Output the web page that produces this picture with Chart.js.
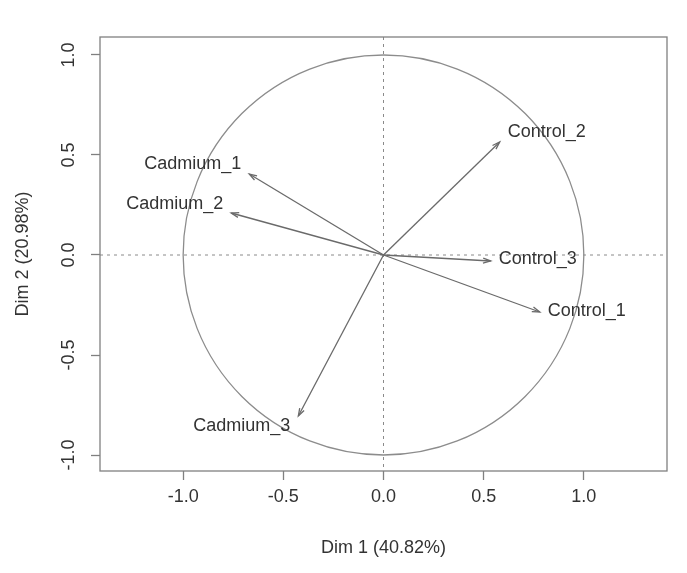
<!DOCTYPE html>
<html>
<head>
<meta charset="utf-8">
<script src="https://cdn.jsdelivr.net/npm/chart.js@4"></script>
<style>
  html, body { margin: 0; padding: 0; background: #fff; }
  #wrap { width: 687px; height: 573px; }
</style>
</head>
<body>
<div id="wrap"><canvas id="c" width="687" height="573"></canvas></div>
<script>
// Variable coordinates on the first two dimensions
const variables = ['Cadmium_1', 'Cadmium_2', 'Cadmium_3', 'Control_1', 'Control_2', 'Control_3'];
const dim1 = [-0.67, -0.76, -0.425, 0.78, 0.58, 0.535];
const dim2 = [0.405, 0.21, -0.805, -0.285, 0.565, -0.03];
// vertical nudge of each label (data units) so labels do not overlap
const labelNudge = [0.05, 0.045, -0.05, 0.005, 0.05, 0.01];
const tickValues = [-1.0, -0.5, 0.0, 0.5, 1.0];
const xTitle = 'Dim 1 (40.82%)';
const yTitle = 'Dim 2 (20.98%)';

const FONT = '"Liberation Sans", Arial, Helvetica, sans-serif';
const TEXT = '#333333';
const LINE = '#808080';

const datasets = variables.map((name, i) => ({
  label: name,
  data: [{ x: 0, y: 0 }, { x: dim1[i], y: dim2[i] }],
  showLine: true,
  borderColor: '#6a6a6a',
  borderWidth: 1.3,
  pointRadius: 0,
  fill: false
}));

const circlePlugin = {
  id: 'circleAndGuides',
  beforeDatasetsDraw(chart) {
    const { ctx, chartArea: a, scales: { x, y } } = chart;
    const cx = x.getPixelForValue(0), cy = y.getPixelForValue(0);
    ctx.save();
    // dotted reference lines through the origin
    ctx.strokeStyle = '#8a8a8a';
    ctx.lineWidth = 1;
    ctx.setLineDash([3, 4]);
    ctx.beginPath();
    ctx.moveTo(a.left, cy); ctx.lineTo(a.right, cy);
    ctx.moveTo(cx, a.top); ctx.lineTo(cx, a.bottom);
    ctx.stroke();
    ctx.setLineDash([]);
    // unit correlation circle
    const rx = x.getPixelForValue(1) - cx;
    const ry = cy - y.getPixelForValue(1);
    ctx.strokeStyle = '#8c8c8c';
    ctx.lineWidth = 1.3;
    ctx.beginPath();
    ctx.ellipse(cx, cy, rx, ry, 0, 0, Math.PI * 2);
    ctx.stroke();
    ctx.restore();
  },
  afterDatasetsDraw(chart) {
    const { ctx, chartArea: a, scales: { x, y } } = chart;
    const cx = x.getPixelForValue(0), cy = y.getPixelForValue(0);
    ctx.save();
    // arrow heads
    ctx.strokeStyle = '#6a6a6a';
    ctx.lineWidth = 1.3;
    variables.forEach((name, i) => {
      const px = x.getPixelForValue(dim1[i]);
      const py = y.getPixelForValue(dim2[i]);
      const ang = Math.atan2(py - cy, px - cx);
      const len = 8, spread = Math.PI / 10;
      ctx.beginPath();
      ctx.moveTo(px - len * Math.cos(ang - spread), py - len * Math.sin(ang - spread));
      ctx.lineTo(px, py);
      ctx.lineTo(px - len * Math.cos(ang + spread), py - len * Math.sin(ang + spread));
      ctx.stroke();
    });
    // variable names
    ctx.fillStyle = TEXT;
    ctx.font = '18px ' + FONT;
    ctx.textBaseline = 'middle';
    variables.forEach((name, i) => {
      const px = x.getPixelForValue(dim1[i]);
      const py = y.getPixelForValue(dim2[i] + labelNudge[i]);
      if (dim1[i] < 0) {
        ctx.textAlign = 'right';
        ctx.fillText(name, px - 8, py);
      } else {
        ctx.textAlign = 'left';
        ctx.fillText(name, px + 8, py);
      }
    });
    // plot frame
    ctx.strokeStyle = LINE;
    ctx.lineWidth = 1.3;
    ctx.strokeRect(a.left, a.top, a.right - a.left, a.bottom - a.top);
    ctx.restore();
  }
};

const fixTicks = scale => { scale.ticks = tickValues.map(v => ({ value: v })); };

new Chart(document.getElementById('c'), {
  type: 'scatter',
  data: { datasets },
  options: {
    responsive: false,
    animation: false,
    events: [],
    layout: { padding: { top: 37, right: 20, left: 0, bottom: 0 } },
    plugins: { legend: { display: false }, tooltip: { enabled: false } },
    scales: {
      x: {
        type: 'linear',
        min: -1.415, max: 1.415,
        afterBuildTicks: fixTicks,
        afterFit: s => { s.height = 102; },
        grid: { drawOnChartArea: false, drawTicks: true, tickLength: 9, tickColor: LINE, tickWidth: 1.3 },
        border: { display: false },
        ticks: { color: TEXT, font: { family: FONT, size: 18 }, padding: 6,
                 callback: v => v.toFixed(1) },
        title: { display: true, text: xTitle, color: TEXT, font: { family: FONT, size: 18 },
                 padding: { top: 0, bottom: 14 } }
      },
      y: {
        type: 'linear',
        min: -1.08, max: 1.09,
        afterBuildTicks: fixTicks,
        afterFit: s => { s.width = 100; },
        grid: { drawOnChartArea: false, drawTicks: true, tickLength: 9, tickColor: LINE, tickWidth: 1.3 },
        border: { display: false },
        ticks: { color: TEXT, font: { family: FONT, size: 18 }, padding: 6,
                 minRotation: 90, maxRotation: 90, crossAlign: 'center',
                 callback: v => v.toFixed(1) },
        title: { display: true, text: yTitle, color: TEXT, font: { family: FONT, size: 18 },
                 padding: { top: 12, bottom: 0 } }
      }
    }
  },
  plugins: [circlePlugin]
});
</script>
</body>
</html>
